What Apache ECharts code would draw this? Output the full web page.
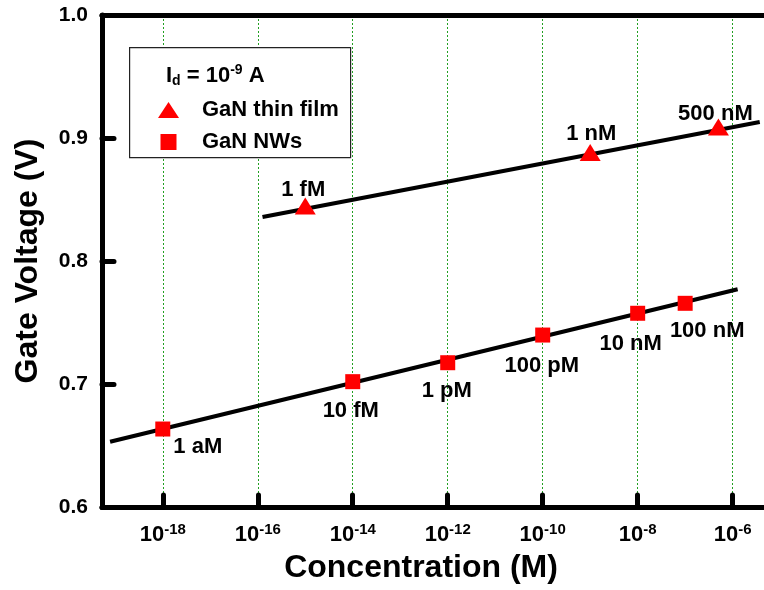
<!DOCTYPE html>
<html><head><meta charset="utf-8">
<script src="https://cdn.jsdelivr.net/npm/echarts@6/dist/echarts.min.js"></script>
<style>html,body{margin:0;padding:0;background:#fff}#c{width:764px;height:590px}</style>
</head><body><div id="c"></div>
<script>
// x values are log10(concentration / M)
const majorTicks = [-18, -16, -14, -12, -10, -8, -6];
const minorTicks = [-19, -17, -15, -13, -11, -9, -7];
const filmLogC = [-15, -9, -6.3];
const filmVolt = [0.8447, 0.8882, 0.9089];
const filmLabels = ['1 fM', '1 nM', '500 nM'];
const nwLogC = [-18, -14, -12, -10, -8, -7];
const nwVolt = [0.6634, 0.7019, 0.7173, 0.7398, 0.7575, 0.7656];
const nwLabels = ['1 aM', '10 fM', '1 pM', '100 pM', '10 nM', '100 nM'];
const filmFitC = [-15.9, -5.43];
const filmFitV = [0.8358, 0.913];
const nwFitC = [-19.11, -5.895];
const nwFitV = [0.6531, 0.777];

// label layout (pixel offsets from marker centre)
const filmLabelOffsets = [[-2, -16], [1, -19], [-3, -13]];
const nwLabelOffsets = [[35, 18], [-2, 29], [-1, 28], [-1, 31], [-7, 31], [22, 28]];

const FONT = "'Liberation Sans', Arial, sans-serif";
const zip = (a, b) => a.map((v, i) => [v, b[i]]);

const chart = echarts.init(document.getElementById('c'));
const xMin = -19.28, xMax = -5.34;

function pts(xs, ys, labels, offs) {
  return xs.map((x, i) => ({
    value: [x, ys[i]],
    label: { show: true, formatter: labels[i], position: 'inside', offset: offs[i] }
  }));
}

const pointLabel = { fontFamily: FONT, fontSize: 22, fontWeight: 'bold', color: '#000', opacity: 1 };

chart.setOption({
  animation: false,
  textStyle: { fontFamily: FONT },
  grid: { left: 102, right: 0, top: 15, bottom: 83 },
  xAxis: [
    {
      type: 'value', min: xMin, max: xMax, position: 'bottom',
      name: 'Concentration (M)', nameLocation: 'middle', nameGap: 45,
      nameTextStyle: { fontFamily: FONT, fontSize: 32, fontWeight: 'bold', color: '#000', padding: [0, 24, 0, 0] },
      axisLine: { lineStyle: { color: '#000', width: 5 } },
      axisTick: { customValues: majorTicks, inside: true, length: 12, lineStyle: { color: '#000', width: 5, cap: 'round' } },
      axisLabel: {
        customValues: majorTicks, margin: 15, fontSize: 22, fontWeight: 'bold', color: '#000', fontFamily: FONT,
        formatter: v => '{b|10}{s|' + Math.round(v) + '}',
        rich: {
          b: { fontFamily: FONT, fontSize: 22, fontWeight: 'bold', color: '#000' },
          s: { fontFamily: FONT, fontSize: 15, fontWeight: 'bold', color: '#000', padding: [0, 0, 10, 0] }
        }
      },
      splitLine: { show: true, lineStyle: { color: '#22a022', width: 1, type: [2, 2] } }
    },
    {
      type: 'value', min: xMin, max: xMax, position: 'bottom',
      axisLine: { show: false },
      axisTick: { customValues: minorTicks, inside: false, length: 3, lineStyle: { color: '#000', width: 4 } },
      axisLabel: { show: false }, splitLine: { show: false }
    },
    {
      type: 'value', min: xMin, max: xMax, position: 'top',
      axisLine: { lineStyle: { color: '#000', width: 5 } },
      axisTick: { show: false }, axisLabel: { show: false }, splitLine: { show: false }
    }
  ],
  yAxis: {
    type: 'value', min: 0.6, max: 1.0, interval: 0.1,
    name: 'Gate Voltage (V)', nameLocation: 'middle', nameGap: 58,
    nameTextStyle: { fontFamily: FONT, fontSize: 32, fontWeight: 'bold', color: '#000' },
    axisLine: { show: true, lineStyle: { color: '#000', width: 5 } },
    axisTick: { inside: true, length: 12, lineStyle: { color: '#000', width: 5, cap: 'round' } },
    minorTick: { show: true, splitNumber: 2, length: 3, lineStyle: { color: '#000', width: 4 } },
    axisLabel: { margin: 14, fontFamily: FONT, fontSize: 21, fontWeight: 'bold', color: '#000', formatter: v => v.toFixed(1) },
    splitLine: { show: false }
  },
  legend: {
    orient: 'vertical', left: 153, top: 94, itemWidth: 21, itemHeight: 16, itemGap: 10,
    data: [
      { name: 'GaN thin film', icon: 'triangle' },
      { name: 'GaN NWs', icon: 'path://M0,0h1v1h-1z' }
    ],
    textStyle: { fontFamily: FONT, fontSize: 22, fontWeight: 'bold', color: '#000', padding: [0, 0, 0, 18] },
    z: 6
  },
  graphic: [
    { type: 'rect', left: 129, top: 47, z: 5, shape: { width: 221, height: 110 },
      style: { fill: '#fff', stroke: '#222', lineWidth: 1.2 } },
    { type: 'text', left: 166, top: 63, z: 6,
      style: {
        text: '{m|I}{sub|d}{m| = 10}{sup|-9}{m| A}',
        rich: {
          m: { fontFamily: FONT, fontSize: 22, fontWeight: 'bold', fill: '#000' },
          sub: { fontFamily: FONT, fontSize: 14, fontWeight: 'bold', fill: '#000', padding: [10, 0, 0, 0] },
          sup: { fontFamily: FONT, fontSize: 14, fontWeight: 'bold', fill: '#000', padding: [0, 0, 12, 0] }
        }
      } }
  ],
  series: [
    { type: 'line', data: zip(nwFitC, nwFitV), symbol: 'none', lineStyle: { color: '#000', width: 4 }, z: 3, silent: true },
    { type: 'line', data: zip(filmFitC, filmFitV), symbol: 'none', lineStyle: { color: '#000', width: 4 }, z: 3, silent: true },
    {
      name: 'GaN thin film', type: 'scatter', symbol: 'triangle', symbolSize: [21, 17],
      itemStyle: { color: '#ff0000', opacity: 1 }, z: 4,
      label: pointLabel,
      data: pts(filmLogC, filmVolt, filmLabels, filmLabelOffsets)
    },
    {
      name: 'GaN NWs', type: 'scatter', symbol: 'rect', symbolSize: 15,
      itemStyle: { color: '#ff0000', opacity: 1 }, z: 4,
      label: pointLabel,
      data: pts(nwLogC, nwVolt, nwLabels, nwLabelOffsets)
    }
  ]
});
</script>
</body></html>
